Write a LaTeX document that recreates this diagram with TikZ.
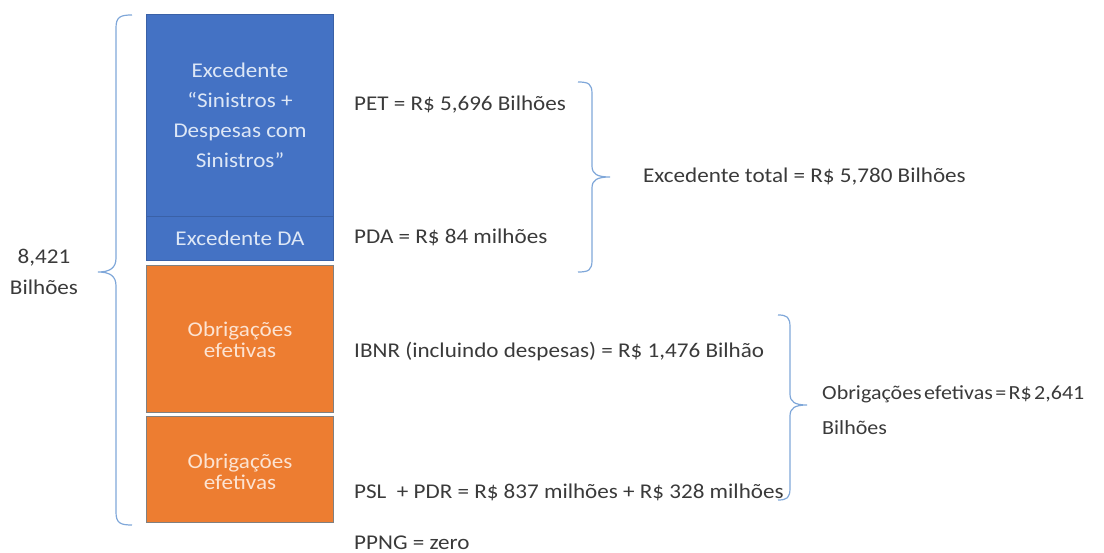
\documentclass[tikz,border=0pt]{standalone}
\usepackage{fontspec}
\setmainfont[FakeStretch=1.1]{Carlito}
\definecolor{boxblue}{HTML}{4472C4}
\definecolor{boxorange}{HTML}{ED7D31}
\definecolor{bracecol}{HTML}{7FA7D9}
\definecolor{txt}{HTML}{3A3A3A}
\definecolor{bluetxt}{HTML}{DDE7F6}
\definecolor{orangetxt}{HTML}{FCE3D2}
\newcommand\tightspaces{\spaceskip=0.12em plus 0.05em\relax}
\tikzset{
  bluebox/.style={fill=boxblue, draw=boxblue!85!black, line width=0.6pt},
  orangebox/.style={fill=boxorange, draw=black!50, line width=1pt},
  boxlabel/.style={font=\fontsize{21}{30}\selectfont, align=center, inner sep=0pt},
  lbl/.style={font=\fontsize{21}{30}\selectfont, text=txt, inner sep=0pt, anchor=west},
  bracestyle/.style={draw=bracecol, line width=1.2pt}
}
\begin{document}
\begin{tikzpicture}[x=1pt,y=-1pt]
\useasboundingbox (0,0) rectangle (1104,553);
% boxes
\draw[bluebox] (146,14) rectangle (333,216);
\draw[bluebox] (146,216) rectangle (333,260);
\draw[orangebox] (146,266) rectangle (333,413);
\draw[orangebox] (146,417) rectangle (333,522);
\node[boxlabel, text=bluetxt] (b1) at (240,115) {Excedente\\“Sinistros +\\Despesas com\\Sinistros”};
\node[boxlabel, text=bluetxt] (b2) at (240,238) {Excedente DA};
\node[boxlabel, text=orangetxt, font=\fontsize{21}{21}\selectfont] (o1) at (240,339.5) {Obrigações\\efetivas};
\node[boxlabel, text=orangetxt, font=\fontsize{21}{21}\selectfont] (o2) at (240,471.5) {Obrigações\\efetivas};
% left label
\node[lbl, anchor=center, align=center, font=\fontsize{21}{31}\selectfont] (tot) at (44,272) {8,421\\Bilhões};
% left brace
\draw[bracestyle] (132,15) .. controls (120,15) and (116,17) .. (116,28) -- (116,258)
  .. controls (116,268) and (110,272) .. (98,272)
  .. controls (110,272) and (116,276) .. (116,286) -- (116,512)
  .. controls (116,523) and (120,525) .. (132,525);
% right texts
\node[lbl] (pet) at (354,105) {PET = R\$ 5,696 Bilhões};
\node[lbl] (pda) at (354,237) {PDA = R\$ 84 milhões};
\node[lbl] (ibnr) at (354,352) {IBNR (incluindo despesas) = R\$ 1,476 Bilhão};
\node[lbl] (psl) at (354,492) {PSL \ + PDR = R\$ 837 milhões + R\$ 328 milhões};
\node[lbl] (ppng) at (354,543) {PPNG = zero};
% brace 1
\draw[bracestyle] (578,82) .. controls (589,82) and (592,84) .. (592,94) -- (592,166)
  .. controls (592,174) and (597,177) .. (610,177)
  .. controls (597,177) and (592,180) .. (592,188) -- (592,260)
  .. controls (592,270) and (589,272) .. (578,272);
\node[lbl] (exc) at (643,177) {Excedente total = R\$ 5,780 Bilhões};
% brace 2
\draw[bracestyle] (778,315) .. controls (787,315) and (790,317) .. (790,327) -- (790,394)
  .. controls (790,402) and (795,405) .. (807,405)
  .. controls (795,405) and (790,408) .. (790,416) -- (790,488)
  .. controls (790,498) and (787,500) .. (778,500);
\node[lbl, align=left, font=\fontsize{20}{35}\selectfont\tightspaces] (obr) at (822,410) {Obrigações efetivas = R\$ 2,641\\Bilhões};
\end{tikzpicture}
\end{document}
